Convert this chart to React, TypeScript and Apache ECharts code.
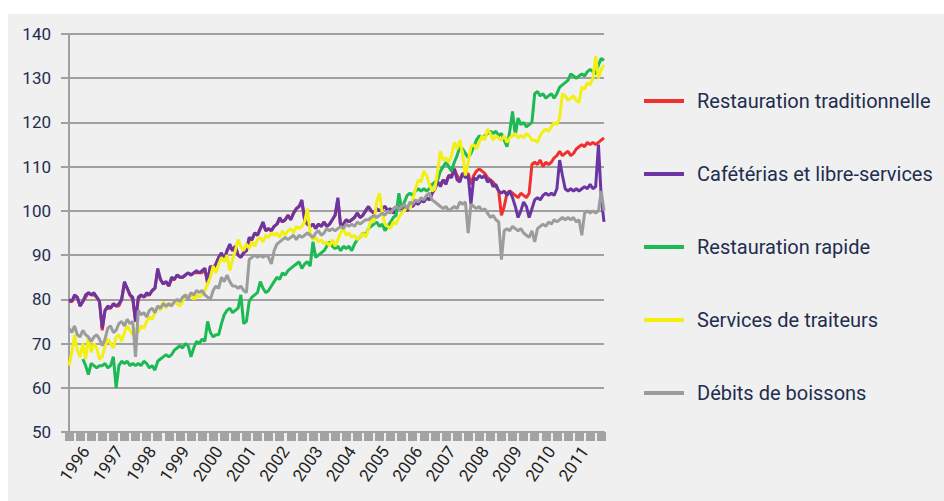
import React, { useEffect, useRef } from "react";
import * as echarts from "echarts";

const seriesNames = [
  "Restauration traditionnelle",
  "Cafétérias et libre-services",
  "Restauration rapide",
  "Services de traiteurs",
  "Débits de boissons",
];
const seriesColors = ["#f0302c", "#6b35a3", "#1db954", "#f2ef12", "#9c9c9c"];

const yearLabels = [
  "1996", "1997", "1998", "1999", "2000", "2001", "2002", "2003",
  "2004", "2005", "2006", "2007", "2008", "2009", "2010", "2011",
];

// monthly categories, July 1995 .. August 2011
const START_YEAR = 1995;
const START_MONTH = 7;
const N_MONTHS = 194;
const months: string[] = [];
for (let i = 0; i < N_MONTHS; i++) {
  const m = START_MONTH - 1 + i;
  const y = START_YEAR + Math.floor(m / 12);
  const mm = (m % 12) + 1;
  months.push(`${y}-${String(mm).padStart(2, "0")}`);
}

const traditionnelle = [
  79.5, 79.5, 80.5, 80.5, 78.5, 79.5, 80.5, 81.5, 81, 81, 80.5, 79.5,
  73, 77.5, 78, 78, 79, 78.5, 78.5, 80, 83.5, 82.5, 81, 80,
  75, 80, 81, 80.5, 81, 81, 82, 82.5, 86.5, 84.5, 83.5, 84,
  83, 84.5, 84.5, 85.5, 85, 85, 85.5, 86, 85.5, 86, 86, 86,
  86, 87, 83.5, 87.5, 87, 88, 89.5, 90, 89, 91, 92, 91,
  92, 90, 89.5, 90.5, 91, 93.5, 93.5, 95, 94.5, 96, 97, 95.5,
  96, 95.5, 96.5, 97, 98, 97.5, 98, 99, 98, 99.5, 100.5, 101,
  102, 98, 97, 96.5, 97, 96, 97, 96.5, 97.5, 96.5, 97, 98,
  99, 102.5, 96.5, 97, 98, 97.5, 98, 98.5, 99.5, 98.5, 99, 100,
  101, 100, 99.5, 100.5, 100, 100.5, 101, 100, 100.5, 99.5, 100, 101,
  100.5, 101, 100, 101.5, 101, 102, 101.5, 102.5, 102, 103, 102.5, 104,
  105, 106.5, 106, 107, 106.5, 108, 108, 109.5, 108, 107, 108.5, 108,
  108.5, 106, 108, 109, 109.5, 109, 108.5, 107.5, 107, 106.5, 105.5, 104.5,
  99, 101, 104, 104.5, 104, 103.5, 103, 104, 103.5, 103, 104, 110.5,
  111, 110.5, 111.5, 110, 111, 110.5, 111, 112, 112.5, 113.5, 112.5, 113,
  113.5, 112.5, 113, 114, 114.5, 115, 114.5, 115.5, 115, 115.5, 115, 115.5,
  116, 116.5,
];

const cafeterias = [
  80, 79.5, 81, 80.5, 78.5, 79.5, 81, 81.5, 81, 81.5, 80.5, 79.5,
  73.5, 77.5, 78.5, 78, 79, 78.5, 79, 80, 84, 82.5, 81, 80.5,
  75, 80.5, 81, 80.5, 81.5, 81, 82, 82.5, 87, 84.5, 83.5, 84,
  83, 85, 84.5, 85.5, 85, 85, 85.5, 86, 85.5, 86, 86.5, 86,
  86.5, 87, 84, 87.5, 87, 88, 89.5, 90.5, 89, 91, 92.5, 91,
  92, 90, 89.5, 90.5, 91, 94, 93.5, 95, 94.5, 96, 97.5, 95.5,
  96, 95.5, 96.5, 97, 98.5, 97.5, 98, 99, 98, 99.5, 100.5, 101,
  102.5, 98, 97, 96.5, 97, 96, 97, 96.5, 97.5, 96.5, 97, 98,
  99, 103, 96.5, 97, 98, 97.5, 98, 98.5, 99.5, 98.5, 99, 100,
  101, 100, 99.5, 100.5, 100, 100.5, 101, 100, 100.5, 99.5, 100, 101,
  100.5, 101, 100, 101.5, 101, 102, 101.5, 102.5, 102, 103, 102.5, 104,
  105, 106.5, 105.5, 107, 106, 108, 107.5, 109.5, 107, 106.5, 108.5, 107.5,
  108, 101.5, 107.5, 107, 108, 107.5, 108, 106.5, 107, 105.5, 106, 104.5,
  104, 104.5, 103.5, 104.5, 103, 101, 98.5, 100, 102, 101, 98.5, 100.5,
  102.5, 103, 102.5, 103.5, 104, 103.5, 104, 103.5, 105, 111.5, 108, 105,
  104.5, 105, 104.5, 105, 104.5, 105, 105.5, 105, 106, 105, 105.5, 115,
  103, 97.5,
];

const rapide = [
  null, null, null, null, null, 66.5, 65, 63, 65.5, 65, 64.5, 65,
  65, 65.5, 64.5, 65, 67, 60, 65, 66, 65.5, 66, 65, 65.5,
  65, 65.5, 65, 66, 65.5, 64.5, 65, 64, 66, 66.5, 67, 67.5,
  67, 67.5, 68.5, 69, 69.5, 69, 70, 69.5, 67, 69, 70.5, 70,
  71, 70.5, 75, 72.5, 71.5, 72, 72, 74.5, 76.5, 77.5, 78, 77,
  77.5, 78, 81, 74.5, 75, 79.5, 80.5, 81, 81.5, 84, 82.5, 81.5,
  82, 83, 84, 85, 84.5, 86, 85.5, 86.5, 87, 87.5, 88, 88.5,
  87, 88, 88.5, 87.5, 93, 89.5, 90, 90.5, 91, 92, 93, 92,
  91.5, 92, 91, 92, 91.5, 92, 91, 92.5, 93.5, 94, 95, 94.5,
  96, 96.5, 97, 97.5, 96.5, 97, 95.5, 96.5, 97.5, 98.5, 99, 104,
  100.5, 102, 103.5, 104, 103.5, 104.5, 105, 104.5, 105, 104.5, 105, 106,
  106.5, 107, 109, 110, 111, 110, 109, 111, 112.5, 114.5, 114, 113,
  112, 113, 114.5, 116, 117, 116.5, 117, 117.5, 118, 117.5, 118, 117,
  117.5, 116, 114.5, 118, 122.5, 117, 121, 119.5, 120, 119, 119.5, 120,
  126.5, 127, 126, 126.5, 125.5, 126, 126.5, 125.5, 126.5, 128, 128.5, 129,
  129.5, 131, 130.5, 130, 130.5, 131, 130.5, 131.5, 132, 131.5, 131, 133,
  134.5, 134,
];

const traiteurs = [
  65, 68, 72, 68.5, 67, 70, 66.5, 71.5, 68, 70, 69, 66.5,
  67, 69.5, 71, 70, 69, 71.5, 72, 70.5, 72.5, 74, 73, 72,
  73.5, 72.5, 74, 73.5, 75, 76, 75.5, 77, 78.5, 77.5, 79.5, 78,
  79, 78.5, 79.5, 79, 78.5, 79.5, 81, 80.5, 81.5, 80, 81, 80.5,
  81, 82, 83.5, 85, 87.5, 86, 88, 89.5, 88.5, 90, 86.5, 89,
  91, 93.5, 92, 91, 92.5, 91.5, 93, 92, 93.5, 94, 93, 94.5,
  94, 95, 94.5, 95, 94, 95.5, 94.5, 95.5, 96, 95, 96.5, 96,
  96.5, 97.5, 100.5, 95, 93.5, 94, 93, 93.5, 92.5, 93, 92, 93.5,
  92, 93.5, 95, 96, 94.5, 95, 94, 94.5, 93.5, 94, 95, 94,
  96, 98, 97.5, 102, 104, 99.5, 97, 96.5, 96, 97.5, 97, 98.5,
  99.5, 100, 101, 100.5, 102.5, 105, 107, 106.5, 109, 108, 106, 104.5,
  105, 109, 113.5, 111.5, 112, 111, 112.5, 115.5, 114, 116, 113, 108,
  111, 114.5, 115, 114, 115.5, 117, 116, 118.5, 117.5, 116, 117, 116.5,
  116, 117, 115.5, 116.5, 117, 117.5, 116.5, 117, 116.5, 117.5, 117, 116,
  116, 115.5, 117, 118, 118.5, 118, 119, 120, 119.5, 121, 126.5, 126,
  125, 125.5, 126, 125, 124.5, 128, 127.5, 129, 128.5, 130, 135, 130,
  132, 133,
];

const boissons = [
  73.5, 72.5, 74, 72, 71.5, 73, 72, 71.5, 70.5, 71.5, 72, 71,
  69.5, 71, 73.5, 74, 72.5, 73, 74.5, 75, 74, 75.5, 74.5, 75,
  67, 77.5, 76.5, 77, 76, 77.5, 78, 77, 78.5, 78, 79, 78.5,
  79, 78.5, 79.5, 80, 79.5, 80.5, 81, 80, 81.5, 81, 82, 81.5,
  82, 81, 80.5, 80, 82, 83, 82.5, 85, 84, 85.5, 84, 83,
  83, 82.5, 83, 82, 81.5, 89, 89.5, 90, 89.5, 90, 89.5, 90,
  89.5, 88, 91, 92.5, 93, 93.5, 94, 93.5, 94, 94.5, 93.5, 94.5,
  94, 94.5, 95, 94.5, 94, 95, 95.5, 94.5, 95, 96, 95.5, 96,
  95.5, 96, 96.5, 96, 97, 96.5, 97, 96.5, 97.5, 97, 97.5, 98,
  98, 98.5, 99, 98.5, 99, 99.5, 99, 100, 99.5, 100.5, 101, 100.5,
  101, 101.5, 100.5, 102, 101.5, 102.5, 102, 103, 102.5, 103.5, 104, 102.5,
  102, 101.5, 101, 100.5, 101, 100, 100.5, 101, 100.5, 102, 101.5, 102,
  95, 101.5, 101, 100.5, 101, 100, 100.5, 99.5, 98.5, 99, 98, 97.5,
  89, 95.5, 96, 95.5, 96.5, 96, 95.5, 96, 95, 94.5, 94, 95.5,
  93, 96, 96.5, 97, 96.5, 97.5, 97, 98, 97.5, 98, 98.5, 98,
  98.5, 98, 98.5, 97.5, 98, 94.5, 99.5, 100, 99.5, 100, 99.5, 100,
  104.5, 100,
];

const seriesData = [traditionnelle, cafeterias, rapide, traiteurs, boissons];

const FONT = "Roboto, 'Noto Sans', sans-serif";

export default function App() {
  const ref = useRef<HTMLDivElement>(null);
  useEffect(() => {
    if (!ref.current) return;
    const chart = echarts.init(ref.current, null, { renderer: "svg" });
    chart.setOption({
      animation: false,
      graphic: [
        {
          type: "rect",
          shape: { x: 8, y: 14, width: 936, height: 487 },
          style: { fill: "#f0f0f0" },
          z: -10,
          silent: true,
        },
      ],
      grid: { left: 69, right: 340, top: 34, bottom: 69 },
      xAxis: {
        type: "category",
        data: months,
        boundaryGap: false,
        axisLine: { show: true, lineStyle: { color: "#a0a0a0", width: 2 } },
        axisTick: {
          show: true,
          interval: (i: number) => i % 4 === 0,
          length: 9,
          lineStyle: { color: "#a3a3a3", width: 9 },
        },
        axisLabel: {
          interval: (_i: number, v: string) =>
            v.endsWith("-01") && yearLabels.includes(v.slice(0, 4)),
          formatter: (v: string) => v.slice(0, 4),
          rotate: 55,
          margin: 16,
          fontSize: 17,
          color: "#222222",
          fontFamily: FONT,
        },
        splitLine: { show: false },
      },
      yAxis: {
        type: "value",
        min: 50,
        max: 140,
        interval: 10,
        axisLine: { show: true, lineStyle: { color: "#a0a0a0", width: 2 } },
        axisTick: { show: true, length: 8, lineStyle: { color: "#a0a0a0", width: 2 } },
        axisLabel: { margin: 18, fontSize: 17, color: "#1f2d4f", fontFamily: FONT },
        splitLine: { lineStyle: { color: "#a0a0a0", width: 2 } },
      },
      legend: {
        orient: "vertical",
        left: 644,
        top: 91,
        itemWidth: 40,
        itemHeight: 4,
        itemGap: 53,
        icon: "rect",
        padding: 0,
        textStyle: {
          fontSize: 20,
          color: "#1f2d4f",
          fontFamily: FONT,
          padding: [0, 0, 8, 8],
        },
        data: seriesNames,
      },
      series: seriesNames.map((name, k) => ({
        name,
        type: "line",
        data: seriesData[k],
        color: seriesColors[k],
        showSymbol: false,
        connectNulls: false,
        lineStyle: { width: 3, color: seriesColors[k] },
      })),
    });
    return () => chart.dispose();
  }, []);
  return (
    <div
      ref={ref}
      style={{ position: "fixed", left: 0, top: 0, width: 944, height: 501, background: "#ffffff" }}
    />
  );
}
